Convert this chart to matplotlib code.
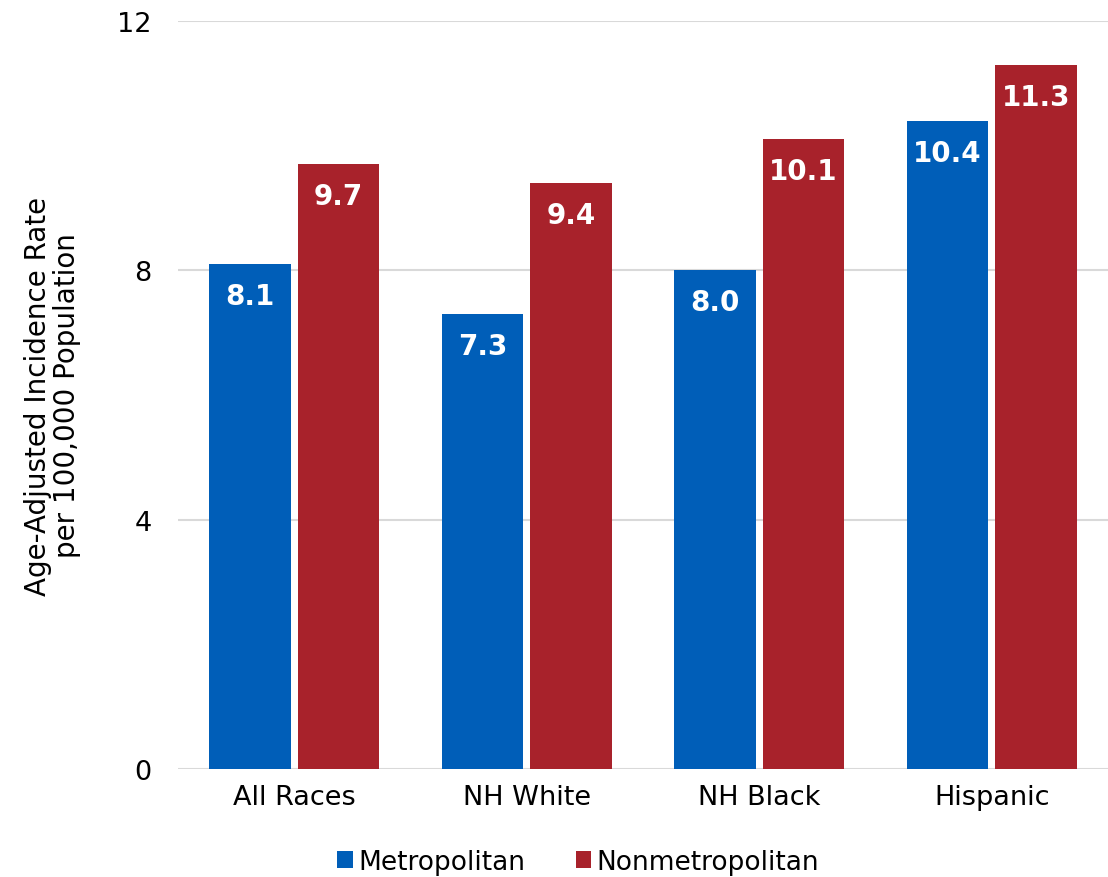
import numpy as np
import matplotlib
matplotlib.use("Agg")
import matplotlib.pyplot as plt

groups = ["All Races", "NH White", "NH Black", "Hispanic"]
metro = [8.1, 7.3, 8.0, 10.4]
nonmetro = [9.7, 9.4, 10.1, 11.3]
series = ["Metropolitan", "Nonmetropolitan"]
colors = ["#005EB8", "#A8222B"]
yticks = [0, 4, 8, 12]

plt.rcParams["font.family"] = ["DejaVu Sans"]

fig = plt.figure(figsize=(11.08, 8.78), dpi=100)
ax = fig.add_axes([0.1606, 0.123, 0.8394, 0.852])

x = np.arange(len(groups))
w = 0.35
off = 0.19
for vals, dx, c, lab in [(metro, -off, colors[0], series[0]),
                         (nonmetro, off, colors[1], series[1])]:
    bars = ax.bar(x + dx, vals, w, color=c, label=lab, zorder=3)
    for b, v in zip(bars, vals):
        ax.annotate(f"{v:.1f}", (b.get_x() + b.get_width() / 2, v),
                    xytext=(0, -23), textcoords="offset points",
                    ha="center", va="center", color="white",
                    fontsize=20, fontweight="bold", zorder=4)

ax.set_xlim(-0.5, len(groups) - 0.5)
ax.set_ylim(0, 12)
ax.set_yticks(yticks)
ax.set_xticks(x)
ax.set_xticklabels(groups, fontsize=19.5)
ax.tick_params(axis="y", labelsize=19.5, length=0, pad=19)
ax.tick_params(axis="x", length=0, pad=11)
ax.grid(axis="y", color="#D9D9D9", lw=1.5, zorder=0)
for s in ax.spines.values():
    s.set_visible(False)
ax.set_ylabel("Age-Adjusted Incidence Rate\nper 100,000 Population",
              fontsize=20, labelpad=26, linespacing=1.05)

fig.legend(loc="center", bbox_to_anchor=(0.522, 0.017), ncol=2, frameon=False,
           fontsize=19, handlelength=0.6, handleheight=0.6, handletextpad=0.2,
           columnspacing=1.9)

fig.savefig("out.png", dpi=100)
